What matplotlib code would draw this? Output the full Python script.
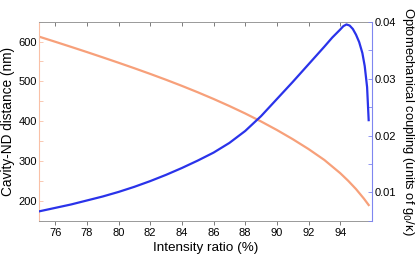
import numpy as np
import matplotlib.pyplot as plt
from matplotlib.ticker import MultipleLocator

plt.rcParams['font.family'] = ['Liberation Sans', 'DejaVu Sans']

# distancia cavidad-ND (eje izquierdo)
ratio_d = [75, 76, 77, 78, 79, 80, 81, 82, 83, 84, 85, 86, 87, 88, 89,
           90, 91, 92, 93, 94, 94.5, 95, 95.5, 95.8]
distance = [612, 599.4, 586.6, 573.6, 560.3, 546.8, 533, 518.8, 504.1, 488.8,
            472.8, 456, 438.3, 419.6, 399.6, 378.2, 355.2, 330.4, 303, 270,
            251, 230, 206, 190]

# acoplamiento optomecanico (eje derecho)
ratio_g = [75, 76, 77, 78, 79, 80, 81, 82, 83, 84, 85, 86, 87, 88, 89, 90,
           91, 92, 93, 93.5, 94, 94.2, 94.4, 94.6, 94.8, 95.0, 95.2, 95.4,
           95.55, 95.7, 95.8]
coupling = [0.0067, 0.0073, 0.0079, 0.0086, 0.0093, 0.0101, 0.0110, 0.0120,
            0.0131, 0.0143, 0.0156, 0.0170, 0.0187, 0.0208, 0.0234, 0.0264,
            0.0294, 0.0325, 0.0356, 0.0372, 0.0386, 0.0392, 0.0395, 0.0393,
            0.0387, 0.0377, 0.0364, 0.0345, 0.0322, 0.0285, 0.0227]

orange = '#f7a07a'
blue = '#2a33ea'

fig = plt.figure(figsize=(4.15, 2.54), dpi=100)
ax = fig.add_axes([0.095, 0.130, 0.801, 0.785])
ax.plot(ratio_d, distance, color=orange, lw=1.6)
ax.set_xlim(75, 96)
ax.set_ylim(150, 650)
ax.yaxis.set_major_locator(MultipleLocator(100))
ax.yaxis.set_minor_locator(MultipleLocator(50))
ax.set_xticks(range(76, 96, 2))
ax.tick_params(axis='x', direction='out', length=3, width=0.6, color='#666666', labelsize=8, pad=2)
ax.tick_params(axis='y', which='both', direction='in', length=3, width=0.6, color='#f9c0a6', labelsize=8, pad=2)
ax.set_xlabel('Intensity ratio (%)', fontsize=9.7, labelpad=3)
ax.set_ylabel('Cavity-ND distance (nm)', fontsize=9.8, va='center')
ax.yaxis.set_label_coords(-0.094, 0.5)
for s in ['top', 'bottom']:
    ax.spines[s].set_color('#999999')
    ax.spines[s].set_linewidth(0.7)
ax.spines['left'].set_color('#f9c0a6')
ax.spines['right'].set_visible(False)

top = ax.secondary_xaxis('top')
top.set_xticks(range(76, 96, 2))
top.tick_params(direction='in', length=3, width=0.6, color='#666666', labeltop=False)
top.spines['top'].set_visible(False)

ax2 = ax.twinx()
ax2.plot(ratio_g, coupling, color=blue, lw=1.6)
ax2.set_ylim(0.005, 0.04)
ax2.yaxis.set_major_locator(MultipleLocator(0.01))
ax2.yaxis.set_minor_locator(MultipleLocator(0.005))
ax2.tick_params(axis='y', which='both', direction='in', length=3, width=0.6, color='#7f86f0', labelsize=8, pad=2)
ax2.set_ylabel('Optomechanical coupling (units of g$_0$/κ)', fontsize=9.4, rotation=270, va='center')
ax2.yaxis.set_label_coords(1.108, 0.5)
for s in ['top', 'bottom', 'left']:
    ax2.spines[s].set_visible(False)
ax2.spines['right'].set_color('#7f86f0')

fig.savefig('out.png', dpi=100)
